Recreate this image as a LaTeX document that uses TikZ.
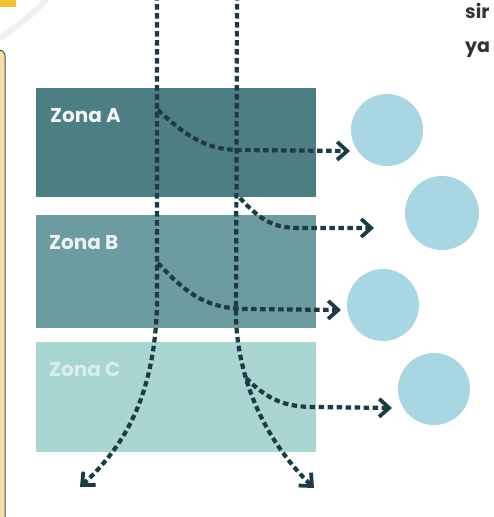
\documentclass[tikz,border=0pt]{standalone}
\usepackage{fontspec}
\setmainfont{Poppins}
\usetikzlibrary{arrows.meta}
\definecolor{zoneA}{HTML}{4D7E83}
\definecolor{zoneB}{HTML}{6C9CA0}
\definecolor{zoneC}{HTML}{AAD6D1}
\definecolor{bubble}{HTML}{A8D7E3}
\definecolor{flow}{HTML}{1C3B47}
\definecolor{tab}{HTML}{F2C232}
\definecolor{panel}{HTML}{F6E0A6}
\begin{document}
\begin{tikzpicture}[x=1pt,y=-1pt,
  zonebox/.style={draw=none,minimum width=280pt,minimum height=109pt,anchor=north west,inner sep=0pt},
  zonelabel/.style={font=\bfseries\fontsize{20}{22}\selectfont,anchor=west,inner sep=0pt},
  bub/.style={circle,fill=bubble,draw=none,minimum size=72pt,inner sep=0pt},
  flowline/.style={draw=flow,line width=4.2pt,dash pattern=on 5.5pt off 3.5pt},
  flowarrow/.style={flowline,-{Straight Barb[length=10pt,width=18pt,line width=3.8pt]}},
  sidetext/.style={font=\bfseries\fontsize{19}{22}\selectfont,text=black!80,anchor=base west,inner sep=0pt}]
\useasboundingbox (0,0) rectangle (494,517);
% background decorations
\draw[black!6,line width=6pt] (0,38) .. controls (25,20) and (40,10) .. (48,-5);
\fill[tab] (0,0) rectangle (16,7);
\draw[black!70,fill=panel,line width=1pt,rounded corners=6pt] (-20,50) rectangle (5,530);
% zones
\node[zonebox,fill=zoneA] (za) at (36,88) {};
\node[zonebox,fill=zoneB,minimum height=113pt] (zb) at (36,215) {};
\node[zonebox,fill=zoneC,minimum height=110pt] (zc) at (36,342) {};
\node[zonelabel,text=white!92!zoneA] (la) at (50,116) {Zona A};
\node[zonelabel,text=white!88!zoneB] (lb) at (49,243) {Zona B};
\node[zonelabel,text=white!55!zoneC] (lc) at (49,369) {Zona C};
% bubbles
\node[bub] (c1) at (387,130) {};
\node[bub,minimum size=74pt] (c2) at (442,213) {};
\node[bub] (c3) at (383,305) {};
\node[bub] (c4) at (434,389) {};
% text
\node[sidetext] (t1) at (465,18) {sir};
\node[sidetext] (t2) at (465,52) {ya};
% coordinates
\coordinate (l1top) at (157,-5);
\coordinate (l2top) at (237,-5);
\coordinate (l1end) at (80,487);
\coordinate (l2end) at (314,488);
\coordinate (b1s) at (158,110);
\coordinate (b1e) at (350,151);
\coordinate (b2s) at (240,198);
\coordinate (b2e) at (374,228);
\coordinate (b3s) at (158,263);
\coordinate (b3e) at (341,310);
\coordinate (b4s) at (246,378);
\coordinate (b4e) at (392,408);
% main flows
\draw[flowarrow] (l1top) -- (157,300) .. controls (156,400) and (120,450) .. (l1end);
\draw[flowarrow] (l2top) -- (236,320) .. controls (240,400) and (280,455) .. (l2end);
% branches
\draw[flowarrow] (b1s) .. controls (190,140) and (210,150) .. (240,150) -- (b1e);
\draw[flowarrow] (b2s) .. controls (262,222) and (275,228) .. (300,228) -- (b2e);
\draw[flowarrow] (b3s) .. controls (190,298) and (210,308) .. (245,309) -- (b3e);
\draw[flowarrow] (b4s) .. controls (268,400) and (285,407) .. (315,407) -- (b4e);
\end{tikzpicture}
\end{document}
